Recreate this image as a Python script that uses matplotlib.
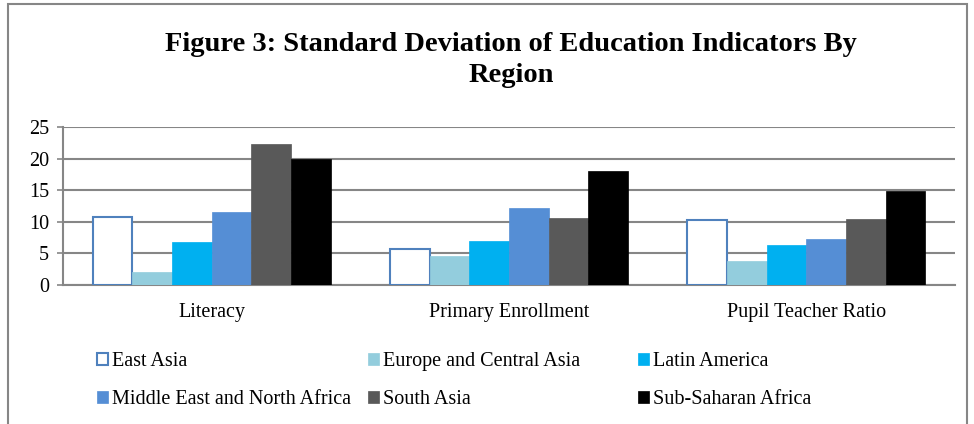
import numpy as np
import matplotlib.pyplot as plt
from matplotlib.patches import Rectangle

plt.rcParams['font.family'] = ['Liberation Serif', 'DejaVu Serif']

categories = ['Literacy', 'Primary Enrollment', 'Pupil Teacher Ratio']
regions = ['East Asia', 'Europe and Central Asia', 'Latin America',
           'Middle East and North Africa', 'South Asia', 'Sub-Saharan Africa']
east_asia = [10.8, 5.65, 10.3]
europe_central_asia = [2.1, 4.6, 3.85]
latin_america = [6.85, 7.0, 6.4]
mena = [11.5, 12.2, 7.2]
south_asia = [22.25, 10.65, 10.5]
sub_saharan = [19.9, 18.1, 14.8]
yticks = [0, 5, 10, 15, 20, 25]

series = [east_asia, europe_central_asia, latin_america, mena, south_asia, sub_saharan]
fills = ['white', '#93CDDD', '#00B0F0', '#558ED5', '#595959', '#000000']
edges = ['#4F81BD', '#93CDDD', '#00B0F0', '#558ED5', '#595959', '#000000']

fig = plt.figure(figsize=(9.74, 4.24), dpi=100)
ax = fig.add_axes([63/974, 1-285/424, (955-63)/974, (285-127)/424])

x = np.arange(len(categories))
w = 0.8/len(series)
handles = []
for i, (vals, fc, ec) in enumerate(zip(series, fills, edges)):
	lw = 1.5 if i == 0 else 0.5
	b = ax.bar(x + (i - 2.5)*w, vals, w, color=fc, edgecolor=ec, linewidth=lw, zorder=3, label=regions[i])
	handles.append(b)

ax.set_xlim(-0.5, 2.5)
ax.set_ylim(0, 25)
ax.set_yticks(yticks)
ax.set_xticks(x)
ax.set_xticklabels(categories, fontsize=14.5)
ax.tick_params(axis='y', labelsize=14.5, length=4, color='#868686', width=1.2, pad=6)
ax.tick_params(axis='x', length=0, pad=13)
ax.yaxis.grid(True, color='#868686', linewidth=1.5, zorder=0)
for s in ['top', 'right']:
	ax.spines[s].set_visible(False)
for s in ['left', 'bottom']:
	ax.spines[s].set_color('#868686')
	ax.spines[s].set_linewidth(1.5)

fig.text(511/974, 1-60/424, 'Figure 3: Standard Deviation of Education Indicators By\nRegion',
	ha='center', va='center', fontsize=20.5, fontweight='bold', linespacing=1.35)

# legend: three columns, row-major order as in the reference
col_x = [97/974, 368/974, 638/974]
for c in range(3):
	hs = [handles[c], handles[c+3]]
	fig.legend(hs, [regions[c], regions[c+3]], loc='upper left',
		bbox_to_anchor=(col_x[c], 1-352/424), frameon=False, fontsize=14.5,
		handlelength=0.55, handleheight=0.55, handletextpad=0.2, labelspacing=0.95,
		borderaxespad=0, borderpad=0)

fig.patches.append(Rectangle((8/974, -0.01), (967-8)/974, 1.0, transform=fig.transFigure,
	fill=False, edgecolor='#868686', linewidth=1.5))

fig.savefig('out.png', dpi=100)
